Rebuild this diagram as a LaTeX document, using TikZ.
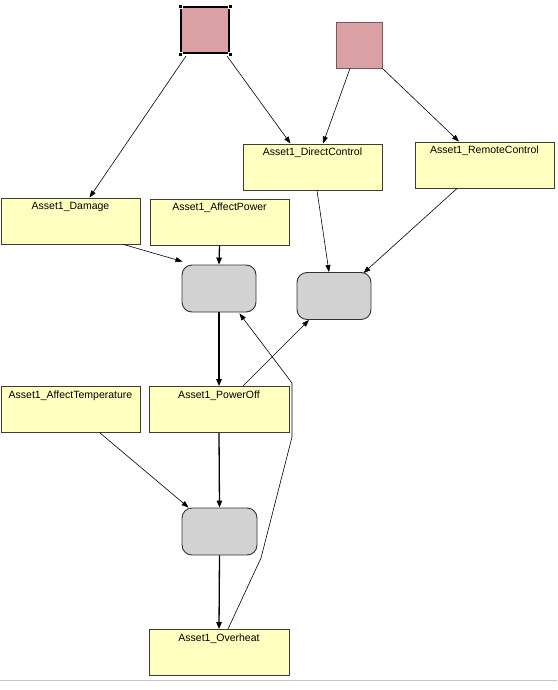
\documentclass[tikz,border=0pt]{standalone}
\usepackage{fontspec}
\setmainfont{Liberation Sans}
\usetikzlibrary{arrows.meta,calc}
\definecolor{boxfill}{RGB}{255,255,192}
\definecolor{boxline}{RGB}{60,60,50}
\definecolor{pinkfill}{RGB}{218,160,164}
\definecolor{pinkline}{RGB}{120,90,90}
\definecolor{decfill}{RGB}{210,210,210}
\definecolor{decline}{RGB}{50,50,50}
\definecolor{rulegray}{RGB}{200,200,200}
\tikzset{
  varbox/.style={draw=boxline, fill=boxfill, line width=0.9pt, minimum width=139pt,
    minimum height=46pt, inner sep=0pt},
  decbox/.style={draw=decline, fill=decfill, line width=0.9pt, rounded corners=10pt,
    minimum width=74pt, minimum height=47pt, inner sep=0pt},
  srcbox/.style={draw=pinkline, fill=pinkfill, line width=0.8pt, minimum width=46pt,
    minimum height=46pt, inner sep=0pt},
  lbl/.style={anchor=north, inner sep=0pt, yshift=-4.5pt, font=\fontsize{10.5}{12}\selectfont},
  thin/.style={draw=black, line width=0.6pt, -{Triangle[length=7pt,width=5pt]}},
  thick/.style={draw=black, line width=1.3pt, -{Triangle[length=7pt,width=5.5pt]}},
  handle/.style={fill=black, draw=white, line width=0.4pt, minimum size=4.5pt, inner sep=0pt},
}
\begin{document}
\begin{tikzpicture}[x=1pt, y=-1pt]
\useasboundingbox (0,0) rectangle (557,690);
\fill[white] (0,0) rectangle (557,690);
\draw[rulegray, line width=1pt] (0,680.5) -- (557,680.5);

% source nodes
\node[srcbox, minimum width=48pt, draw=black, line width=2pt] (r1) at (205,30) {};
\foreach \c in {north west, north east, south west, south east}
  \node[handle] at (r1.\c) {};
\node[srcbox] (r2) at (359,45) {};

% variable boxes
\node[varbox, label={[lbl]north:Asset1\_DirectControl}] (dc) at (312.5,167) {};
\node[varbox, label={[lbl]north:Asset1\_RemoteControl}] (rc) at (484.5,165) {};
\node[varbox, label={[lbl]north:Asset1\_Damage}] (dm) at (70.5,221) {};
\node[varbox, label={[lbl]north:Asset1\_AffectPower}] (ap) at (219.5,222) {};
\node[varbox, label={[lbl]north:Asset1\_AffectTemperature}] (at) at (70.5,409.5) {};
\node[varbox, minimum width=140pt, label={[lbl]north:Asset1\_PowerOff}] (po) at (219,409.5) {};
\node[varbox, minimum width=140pt, label={[lbl]north:Asset1\_Overheat}] (oh) at (219,652.5) {};

% decision nodes
\node[decbox] (g1) at (219,288.5) {};
\node[decbox] (g2) at (334,296) {};
\node[decbox, minimum width=75pt] (g3) at (219.5,531.5) {};

% connectors
\draw[thin] ($(r1.south west)+(6,2)$) -- ($(dm.north)+(19,0)$);
\draw[thin] ($(r1.south east)+(-3,2)$) -- ($(dc.north)+(-22,0)$);
\draw[thin] ($(r2.south)+(-9,0)$) -- ($(dc.north)+(10.5,0)$);
\draw[thin] (r2.south east) -- ($(rc.north)+(-25.5,0)$);
\draw[thin] ($(dm.south)+(53,0)$) -- ($(g1.north west)+(1,-3)$);
\draw[thick] (ap.south) -- (g1.north);
\draw[thin] ($(dc.south)+(4.5,0)$) -- ($(g2.north)+(-5,0)$);
\draw[thin] ($(rc.south)+(-27.5,0)$) -- ($(g2.north east)+(-8,1)$);
\draw[thick] (g1.south) -- (po.north);
\draw[thin] ($(po.north)+(24,0)$) -- ($(g2.south)+(-25,0)$);
\draw[thick] (po.south) -- (g3.north);
\draw[thin] ($(at.south)+(29.5,0)$) -- ($(g3.north west)+(7,0)$);
\draw[thick] (g3.south) -- (oh.north);
\coordinate (b1) at (261,558);
\coordinate (b2) at (292,437);
\coordinate (b3) at (292,383);
\draw[thin] ($(oh.north)+(9,0)$) -- (b1) -- (b2) -- (b3) -- ($(g1.south east)+(-17,1)$);
\end{tikzpicture}
\end{document}
